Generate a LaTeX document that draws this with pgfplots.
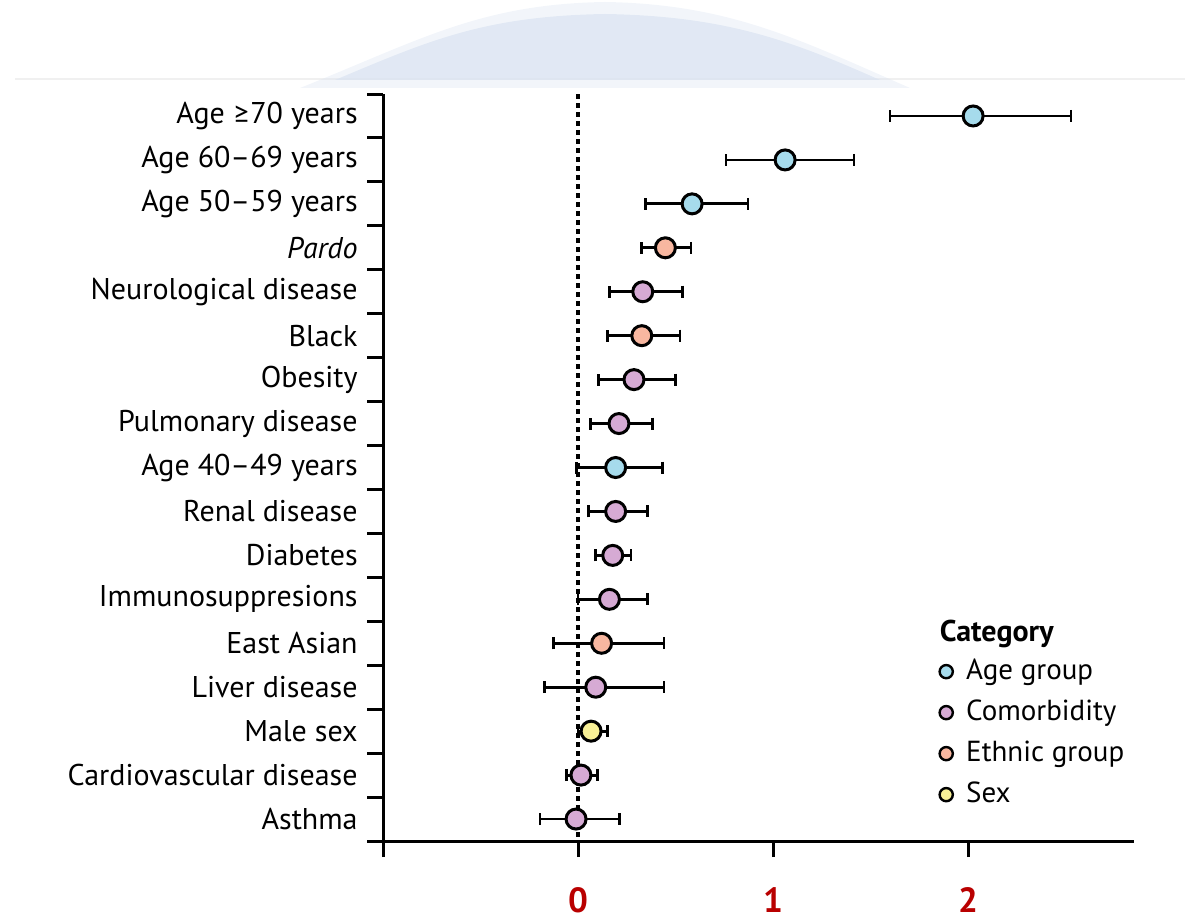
\documentclass[border=0pt]{standalone}
\usepackage{fontspec}
\setmainfont{PT Sans}
\newfontfamily\symf{Lato}
\usepackage{pgfplots}
\pgfplotsset{compat=1.18}
\usepackage{pgfplotstable}

\definecolor{agec}{RGB}{166,219,236}
\definecolor{comc}{RGB}{214,170,212}
\definecolor{ethc}{RGB}{248,183,160}
\definecolor{sexc}{RGB}{248,240,150}
\definecolor{tickred}{RGB}{185,0,0}
\definecolor{wmark}{RGB}{218,227,241}

\pgfplotstableread{
y x lo hi
1 2.026 1.600 2.528
2 1.062 0.759 1.415
3 0.585 0.344 0.872
9 0.193 -0.007 0.433
}\agetab
\pgfplotstableread{
y x lo hi
5 0.332 0.161 0.537
7 0.287 0.104 0.501
8 0.210 0.062 0.383
10 0.193 0.053 0.356
11 0.178 0.091 0.272
12 0.161 0.000 0.357
14 0.091 -0.173 0.441
16 0.015 -0.058 0.101
17 -0.010 -0.195 0.212
}\comtab
\pgfplotstableread{
y x lo hi
4 0.448 0.327 0.579
6 0.327 0.152 0.523
13 0.121 -0.127 0.441
}\ethtab
\pgfplotstableread{
y x lo hi
15 0.067 0.000 0.150
}\sextab

\begin{document}
\begin{tikzpicture}
\path[use as bounding box] (0,0) rectangle (598.5pt,460pt);
% faint watermark at the top
\begin{scope}[x=0.5pt,y=-0.5pt,yshift=460pt]
\draw[gray!12,line width=0.8pt] (15,79) -- (1185,79);
\fill[wmark,opacity=0.35] (300,88) .. controls (420,40) and (480,4) .. (605,2) .. controls (730,4) and (800,40) .. (910,88) -- cycle;
\fill[wmark,opacity=0.7] (335,80) .. controls (430,40) and (485,16) .. (605,14) .. controls (725,16) and (790,40) .. (880,80) -- cycle;
\end{scope}

\begin{axis}[
  at={(191.5pt,39.5pt)}, anchor=south west,
  scale only axis, width=375.5pt, height=373.5pt,
  xmin=-1, xmax=2.851, ymin=0.5, ymax=17.5, y dir=reverse,
  axis lines*=left,
  axis line style={line width=1.5pt, black},
  tick align=outside, major tick length=8pt,
  tick style={line width=1.5pt, black},
  xtick={-1,0,1,2}, xticklabels={,0,1,2},
  xticklabel style={font=\fontsize{17.5}{17.5}\selectfont\bfseries, text=tickred, inner sep=0pt, yshift=-15pt},
  ytick={0.5,1.5,...,17.5},
  y tick label as interval,
  yticklabels={Age {\symf ≥}70 years, Age 60–69 years, Age 50–59 years, \textit{Pardo}, Neurological disease, Black, Obesity, Pulmonary disease, Age 40–49 years, Renal disease, Diabetes, Immunosuppresions, East Asian, Liver disease, Male sex, Cardiovascular disease, Asthma},
  yticklabel style={font=\fontsize{15}{18}\selectfont, anchor=east, inner sep=0pt, xshift=-4.5pt},
  clip=false,
  legend style={at={(axis cs:1.845,13.25)}, anchor=north west, draw=none, fill=none, inner sep=0pt,
    font=\fontsize{14.5}{17}\selectfont, row sep=3.5pt,
    nodes={inner sep=1.5pt, text height=11pt, text depth=3pt}},
  legend cell align=left,
  legend image code/.code={\path[draw=none,fill=none] (-4pt,-1pt) rectangle (8.5pt,1pt); \draw[#1] plot coordinates {(0pt,0pt)};},
  legend image post style={mark size=3.3pt, every mark/.append style={line width=1.2pt}},
  dot/.style={only marks, mark=*, mark size=5pt, mark options={fill=#1, draw=black, line width=1.5pt},
    error bars/.cd, x dir=both, x explicit,
    error bar style={line width=1.4pt, black},
    error mark=|,
    error mark options={line width=1.4pt, mark size=3pt, black, fill=black}},
]
\addplot[black, line width=1.6pt, dash pattern=on 2.5pt off 2pt, forget plot] coordinates {(0,0.5) (0,17.5)};

\addplot[dot=agec] table[x=x, y=y, x error plus expr=\thisrow{hi}-\thisrow{x}, x error minus expr=\thisrow{x}-\thisrow{lo}] {\agetab};
\addlegendentry{Age group}
\addplot[dot=comc] table[x=x, y=y, x error plus expr=\thisrow{hi}-\thisrow{x}, x error minus expr=\thisrow{x}-\thisrow{lo}] {\comtab};
\addlegendentry{Comorbidity}
\addplot[dot=ethc] table[x=x, y=y, x error plus expr=\thisrow{hi}-\thisrow{x}, x error minus expr=\thisrow{x}-\thisrow{lo}] {\ethtab};
\addlegendentry{Ethnic group}
\addplot[dot=sexc] table[x=x, y=y, x error plus expr=\thisrow{hi}-\thisrow{x}, x error minus expr=\thisrow{x}-\thisrow{lo}] {\sextab};
\addlegendentry{Sex}

\node[anchor=base west, inner sep=0pt, font=\fontsize{15}{17}\selectfont\bfseries] at (axis cs:1.853,12.97) {Category};
\end{axis}
\end{tikzpicture}
\end{document}
